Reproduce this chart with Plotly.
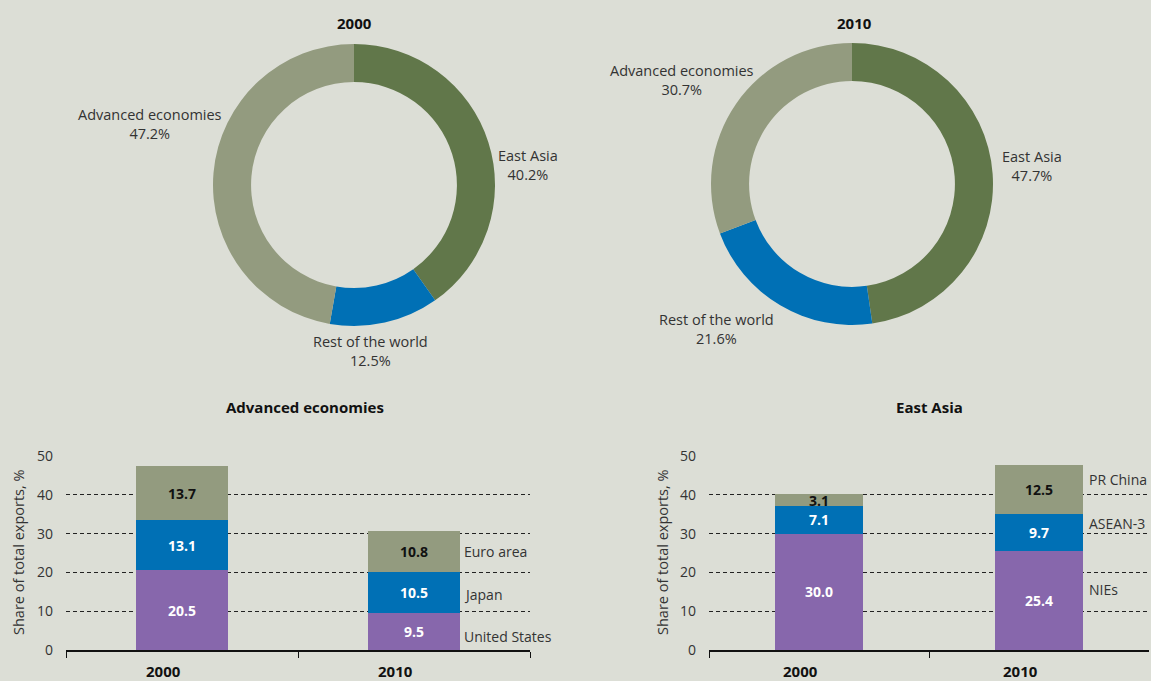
import plotly.graph_objects as go

# ---------------- data ----------------
donut_labels = ["East Asia", "Rest of the world", "Advanced economies"]
donut_2000 = [40.2, 12.5, 47.2]
donut_2010 = [47.7, 21.6, 30.7]

years = ["2000", "2010"]
adv_series = ["United States", "Japan", "Euro area"]
adv_us = [20.5, 9.5]
adv_japan = [13.1, 10.5]
adv_euro = [13.7, 10.8]

ea_series = ["NIEs", "ASEAN-3", "PR China"]
ea_nies = [30.0, 25.4]
ea_asean = [7.1, 9.7]
ea_china = [3.1, 12.5]

# ---------------- style ----------------
BG = "#dcded6"
C_DARK = "#61774a"
C_LIGHT = "#939b7f"
C_BLUE = "#0070b5"
C_PURPLE = "#8767ac"
TXT = "#333333"
FONT = "Open Sans"
W, H = 1151, 681

def px(x):
    return x / W

def py(y):
    return 1 - y / H

fig = go.Figure()

donut_colors = [C_DARK, C_BLUE, C_LIGHT]
for vals, dom in [(donut_2000, dict(x=[px(213), px(495)], y=[py(326), py(44)])),
                  (donut_2010, dict(x=[px(711), px(993)], y=[py(325), py(43)]))]:
    fig.add_trace(go.Pie(labels=donut_labels, values=vals, hole=0.73, sort=False,
                         direction="clockwise", rotation=0, textinfo="none",
                         marker=dict(colors=donut_colors, line=dict(width=0)),
                         domain=dom, showlegend=False, hoverinfo="label+value",
                         automargin=False))

def note(text, x, y, size=14.5, color=TXT, **kw):
    fig.add_annotation(text=text, x=px(x), y=py(y), xref="paper", yref="paper",
                       xanchor="center", yanchor="middle", showarrow=False,
                       font=dict(size=size, color=color, family=FONT), **kw)

# donut labels
donut_label_pos_2000 = [(528, 165), (370, 351), (150, 124)]
donut_label_pos_2010 = [(1032, 166), (716, 329), (682, 80)]
for vals, poss in [(donut_2000, donut_label_pos_2000), (donut_2010, donut_label_pos_2010)]:
    for name, v, (x, y) in zip(donut_labels, vals, poss):
        note(f"{name}<br>{v:.1f}%", x, y, align="center")

# donut titles
for t, x in [("2000", 354), ("2010", 854)]:
    note(f"<b>{t}</b>", x, 23, size=15, color="#111")

# ---------------- bars ----------------
def add_stack(series_names, series_vals, colors, text_colors, xa, ya):
    for name, vals, col, tcol in zip(series_names, series_vals, colors, text_colors):
        fig.add_trace(go.Bar(x=years, y=vals, name=name, marker=dict(color=col, line=dict(width=0)),
                             width=0.4, text=[f"{v:.1f}" for v in vals], textposition="inside",
                             insidetextanchor="middle", constraintext="none", textangle=0,
                             textfont=dict(size=14, color=tcol, family=FONT, weight="bold"),
                             xaxis=xa, yaxis=ya, showlegend=False))

add_stack(adv_series, [adv_us, adv_japan, adv_euro], [C_PURPLE, C_BLUE, C_LIGHT],
          ["white", "white", "#111"], "x", "y")
add_stack(ea_series, [ea_nies, ea_asean, ea_china], [C_PURPLE, C_BLUE, C_LIGHT],
          ["white", "white", "#111"], "x2", "y2")

ydom = [py(650), py(456)]
axis_common_y = dict(range=[0, 50], dtick=10, showgrid=True, gridcolor="#222", gridwidth=1,
                     griddash="4px,3px", zeroline=False, showline=False, ticks="",
                     ticklabelstandoff=12, automargin=False,
                     tickfont=dict(size=14, color=TXT, family=FONT), fixedrange=True)
axis_common_x = dict(type="category", showgrid=False, showline=True, linecolor="#111", linewidth=1.5,
                     ticks="outside", tickson="boundaries", ticklen=6, tickcolor="#111",
                     showticklabels=False, range=[-0.5, 1.5], fixedrange=True, automargin=False)

fig.update_layout(
    xaxis=dict(domain=[px(66), px(530)], anchor="y", **axis_common_x),
    yaxis=dict(domain=ydom, anchor="x", **axis_common_y),
    xaxis2=dict(domain=[px(709), px(1149)], anchor="y2", **axis_common_x),
    yaxis2=dict(domain=ydom, anchor="x2", **axis_common_y),
    barmode="stack",
    paper_bgcolor=BG, plot_bgcolor=BG,
    width=W, height=H, margin=dict(l=0, r=0, t=0, b=0, pad=0, autoexpand=False),
    font=dict(family=FONT, color=TXT),
    showlegend=False,
)

# x category labels (bold, shifted left as in reference)
for xa in ["x", "x2"]:
    for i, yr in enumerate(years):
        fig.add_annotation(text=f"<b>{yr}</b>", x=i, xref=xa, y=py(671), yref="paper",
                           xanchor="center", yanchor="middle", xshift=-19, showarrow=False,
                           font=dict(size=15, color="#111", family=FONT))

# y axis titles
for x in [18, 662]:
    note("Share of total exports, %", x, 553, textangle=-90)

# panel titles
for t, x in [("Advanced economies", 305), ("East Asia", 929)]:
    note(f"<b>{t}</b>", x, 407, size=15, color="#111")

# series labels next to 2010 bars
adv_label_y = [3.6, 14.2, 25.3]
ea_label_y = [15.5, 32.5, 44.0]
for names, ys, xa, ya in [(adv_series, adv_label_y, "x", "y"), (ea_series, ea_label_y, "x2", "y2")]:
    for name, yv in zip(names, ys):
        fig.add_annotation(text=name, x=1, xref=xa, y=yv, yref=ya, xanchor="left",
                           yanchor="middle", xshift=48, showarrow=False,
                           font=dict(size=14, color=TXT, family=FONT))

fig.write_html("out.html")
